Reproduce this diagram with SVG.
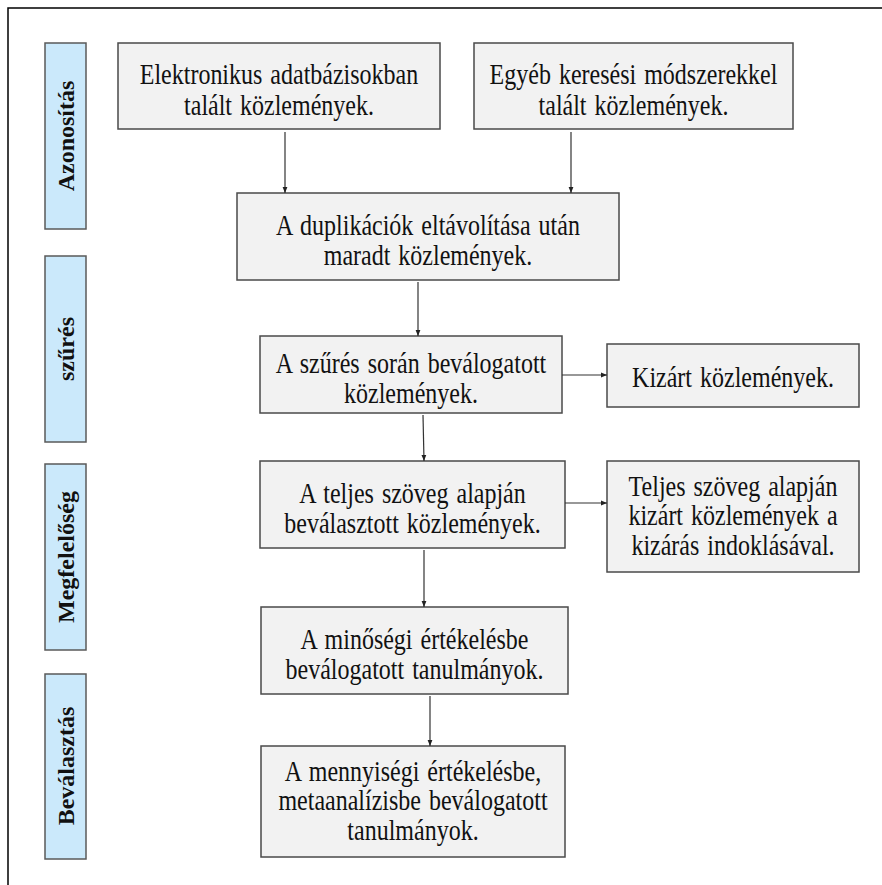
<svg xmlns="http://www.w3.org/2000/svg" width="882" height="885" viewBox="0 0 882 885">
<style>
.box{fill:#f2f2f2;stroke:#4a4a4a;stroke-width:1.5}
.lab{fill:#cbe9fb;stroke:#5a5a5a;stroke-width:1.5}
.t{font-family:"Liberation Serif","Times New Roman",Times,serif;font-weight:normal;font-size:24px;fill:#111;text-anchor:middle;word-spacing:2px}
.s{font-family:"Liberation Serif","Times New Roman",Times,serif;font-size:24px;font-weight:bold;fill:#111;text-anchor:middle}
.c{stroke:#333;stroke-width:1.2;fill:none;marker-end:url(#ah)}
</style>
<defs>
<marker id="ah" viewBox="0 0 10 10" refX="10" refY="5" markerWidth="6" markerHeight="6" orient="auto" markerUnits="userSpaceOnUse">
<path d="M0,1 L10,5 L0,9 z" fill="#222"/>
</marker>
</defs>
<rect width="882" height="885" fill="#fff"/>
<path d="M8,885 V8 H882" fill="none" stroke="#000" stroke-width="1.5"/>

<g id="lab-azonositas"><rect class="lab" x="45" y="43" width="41" height="186"/><text class="s" transform="translate(74,136) rotate(-90)">Azonosítás</text></g>
<g id="lab-szures"><rect class="lab" x="45" y="256" width="41" height="186"/><text class="s" transform="translate(74,349) rotate(-90)">szűrés</text></g>
<g id="lab-megfeleloseg"><rect class="lab" x="45" y="464" width="41" height="186"/><text class="s" transform="translate(74,557) rotate(-90)">Megfelelőség</text></g>
<g id="lab-bevalasztas"><rect class="lab" x="45" y="674" width="41" height="185"/><text class="s" transform="translate(74,766) rotate(-90)">Beválasztás</text></g>

<g id="n1"><rect class="box" x="118" y="43" width="322" height="86"/>
<text class="t" transform="translate(279,84) scale(1,1.2)"><tspan x="0" y="0">Elektronikus adatbázisokban</tspan><tspan x="0" y="25.8">talált közlemények.</tspan></text></g>
<g id="n2"><rect class="box" x="474" y="43" width="319" height="86"/>
<text class="t" transform="translate(633.5,84) scale(1,1.2)"><tspan x="0" y="0">Egyéb keresési módszerekkel</tspan><tspan x="0" y="25.8">talált közlemények.</tspan></text></g>
<g id="n3"><rect class="box" x="237" y="193" width="382" height="87"/>
<text class="t" transform="translate(428,234.5) scale(1,1.2)"><tspan x="0" y="0">A duplikációk eltávolítása után</tspan><tspan x="0" y="25.8">maradt közlemények.</tspan></text></g>
<g id="n4"><rect class="box" x="260" y="336" width="302" height="77"/>
<text class="t" transform="translate(411,372.5) scale(1,1.2)"><tspan x="0" y="0">A szűrés során beválogatott</tspan><tspan x="0" y="25.8">közlemények.</tspan></text></g>
<g id="n5"><rect class="box" x="607" y="344" width="252" height="63"/>
<text class="t" transform="translate(733,386.5) scale(1,1.2)">Kizárt közlemények.</text></g>
<g id="n6"><rect class="box" x="260" y="461" width="305" height="87"/>
<text class="t" transform="translate(412.5,502.5) scale(1,1.2)"><tspan x="0" y="0">A teljes szöveg alapján</tspan><tspan x="0" y="25.8">beválasztott közlemények.</tspan></text></g>
<g id="n7"><rect class="box" x="607" y="461" width="252" height="111"/>
<text class="t" transform="translate(733,495.5) scale(1,1.2)"><tspan x="0" y="0">Teljes szöveg alapján</tspan><tspan x="0" y="24.6">kizárt közlemények a</tspan><tspan x="0" y="49.2">kizárás indoklásával.</tspan></text></g>
<g id="n8"><rect class="box" x="261" y="607" width="307" height="87"/>
<text class="t" transform="translate(414.5,648.5) scale(1,1.2)"><tspan x="0" y="0">A minőségi értékelésbe</tspan><tspan x="0" y="25.8">beválogatott tanulmányok.</tspan></text></g>
<g id="n9"><rect class="box" x="261" y="746" width="304" height="111"/>
<text class="t" transform="translate(413,780.5) scale(1,1.2)"><tspan x="0" y="0">A mennyiségi értékelésbe,</tspan><tspan x="0" y="24.6">metaanalízisbe beválogatott</tspan><tspan x="0" y="49.2">tanulmányok.</tspan></text></g>

<g id="connectors">
<line class="c" x1="285" y1="132" x2="285" y2="193"/>
<line class="c" x1="571" y1="132" x2="571" y2="193"/>
<line class="c" x1="418" y1="282" x2="418" y2="336"/>
<line class="c" x1="562" y1="375" x2="607" y2="375"/>
<line class="c" x1="423" y1="415" x2="424" y2="461"/>
<line class="c" x1="565" y1="503" x2="607" y2="503"/>
<line class="c" x1="424" y1="550" x2="424" y2="607"/>
<line class="c" x1="430" y1="696" x2="430" y2="746"/>
</g>
</svg>
